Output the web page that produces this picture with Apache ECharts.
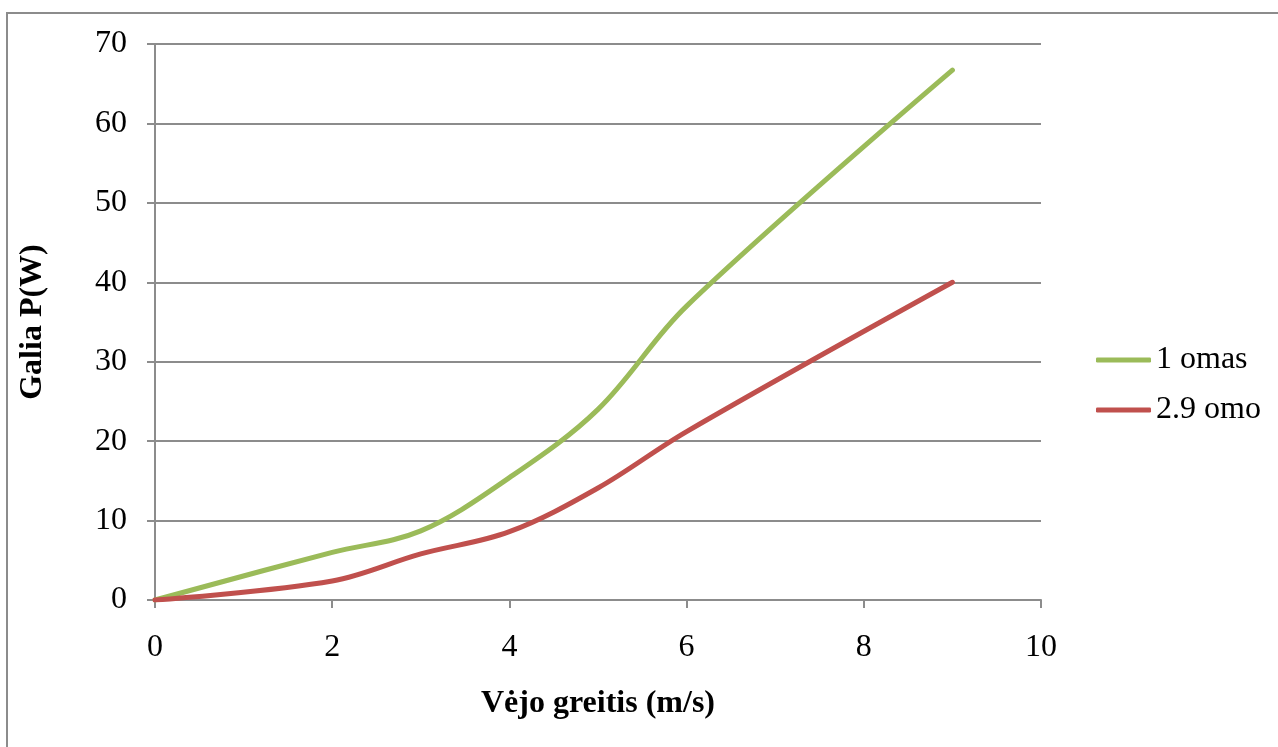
<!DOCTYPE html>
<html>
<head>
<meta charset="utf-8">
<script src="https://cdn.jsdelivr.net/npm/echarts@6/dist/echarts.min.js"></script>
<style>
html,body{margin:0;padding:0;background:#fff;}
#c{width:1278px;height:747px;}
</style>
</head>
<body>
<div id="c"></div>
<script>
const speed = [0, 2, 3, 4, 5, 6, 9];
const power1 = [0, 6.0, 8.7, 15.4, 24.0, 37.0, 66.7];
const power29 = [0, 2.4, 5.8, 8.6, 14.1, 21.2, 40.0];
const seriesNames = ['1 omas', '2.9 omo'];
const xTitle = 'Vėjo greitis (m/s)';
const yTitle = 'Galia P(W)';

const font = 'Liberation Serif, Times New Roman, serif';
const gray = '#8c8c8c';
const chart = echarts.init(document.getElementById('c'), null, {renderer: 'canvas'});
const pairs = a => speed.map((s, i) => [s, a[i]]);
chart.setOption({
  animation: false,
  backgroundColor: '#fff',
  graphic: [{
    type: 'rect', shape: {x: 7, y: 13, width: 1300, height: 800},
    style: {fill: 'none', stroke: gray, lineWidth: 2}, silent: true, z: -1
  }],
  grid: {left: 155, top: 44, right: 237, bottom: 147, containLabel: false},
  legend: {
    orient: 'vertical', left: 1096, top: 344, padding: 0, itemWidth: 55, itemHeight: 5,
    itemGap: 18, icon: 'roundRect',
    textStyle: {fontFamily: font, fontSize: 32, color: '#000'},
    data: seriesNames
  },
  xAxis: {
    type: 'value', min: 0, max: 10, interval: 2,
    name: xTitle, nameLocation: 'middle', nameGap: 88,
    nameTextStyle: {fontFamily: font, fontSize: 32, fontWeight: 'bold', color: '#000'},
    axisLine: {lineStyle: {color: gray, width: 2}},
    axisTick: {show: true, length: 8, lineStyle: {color: gray, width: 2}},
    axisLabel: {fontFamily: font, fontSize: 32, color: '#000', margin: 32},
    splitLine: {show: false}
  },
  yAxis: {
    type: 'value', min: 0, max: 70, interval: 10,
    name: yTitle, nameLocation: 'middle', nameGap: 106, nameRotate: 90,
    nameTextStyle: {fontFamily: font, fontSize: 32, fontWeight: 'bold', color: '#000'},
    axisLine: {show: true, lineStyle: {color: gray, width: 2}},
    axisTick: {show: true, length: 8, lineStyle: {color: gray, width: 2}},
    axisLabel: {fontFamily: font, fontSize: 32, color: '#000', margin: 28},
    splitLine: {show: true, lineStyle: {color: gray, width: 2}}
  },
  series: [
    {name: seriesNames[0], type: 'line', data: pairs(power1), smooth: 0.35, showSymbol: false,
     color: '#9BBB59', lineStyle: {width: 5, cap: 'round', join: 'round'}},
    {name: seriesNames[1], type: 'line', data: pairs(power29), smooth: 0.35, showSymbol: false,
     color: '#C0504D', lineStyle: {width: 5, cap: 'round', join: 'round'}}
  ]
});
</script>
</body>
</html>
